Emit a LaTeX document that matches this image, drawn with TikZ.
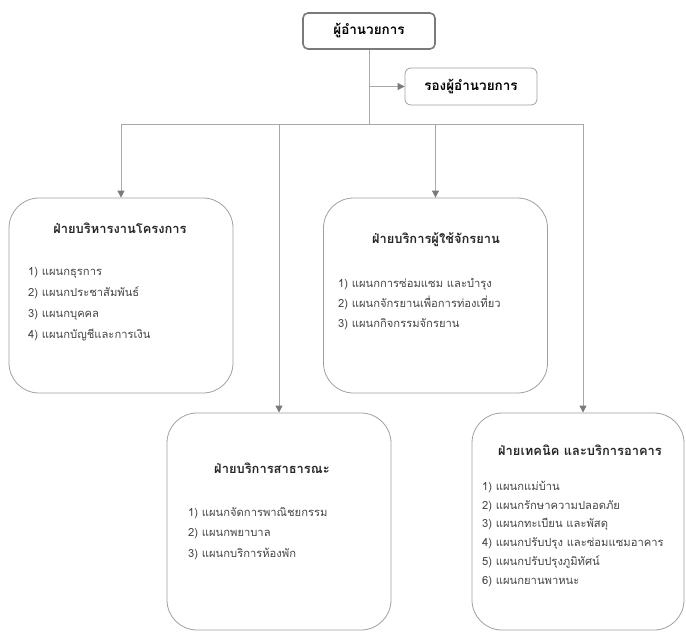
\documentclass[tikz,border=0pt]{standalone}
\usepackage{fontspec}
\setmainfont[Script=Thai]{Loma}
\usetikzlibrary{arrows.meta}
\definecolor{linegray}{HTML}{A8A8A8}
\definecolor{tipgray}{HTML}{7A7A7A}
\definecolor{boxgray}{HTML}{A0A0A0}
\definecolor{textgray}{HTML}{454545}

\begin{document}
\begin{tikzpicture}[x=1pt,y=-1pt]
    \tikzstyle{every node}=[inner sep=0pt]
    \tikzstyle{headbox}=[draw=tipgray, line width=1.6pt, rounded corners=5pt, minimum width=132pt, minimum height=36pt, font=\bfseries\fontsize{13.5}{15}\selectfont]
    \tikzstyle{vicebox}=[draw=boxgray, line width=0.8pt, rounded corners=6pt, minimum width=132pt, minimum height=37pt, font=\bfseries\fontsize{13.5}{15}\selectfont]
    \tikzstyle{deptbox}=[draw=boxgray, line width=0.8pt, rounded corners=30pt, minimum width=224pt]
    \tikzstyle{depttitle}=[font=\bfseries\fontsize{12.9}{15}\selectfont, text=black!85]
    \tikzstyle{itemlist}=[anchor=north west, align=left, text=textgray, font=\fontsize{11.2}{21}\selectfont]
    \tikzstyle{link}=[draw=linegray, line width=0.8pt]
    \tikzstyle{feed}=[link, -{Triangle[length=7pt,width=7pt,color=tipgray]}]
    \useasboundingbox (0,0) rectangle (686,632);

    \node[headbox] (dir) at (369,31) {ผู้อำนวยการ};
    \node[vicebox] (vice) at (471,86.5) {รองผู้อำนวยการ};

    \node[deptbox, minimum height=195pt] (dA) at (121,295.5) {};
    \node[deptbox, minimum height=195pt] (dB) at (435.5,295.5) {};
    \node[deptbox, minimum height=217pt] (dC) at (279,521.5) {};
    \node[deptbox, minimum width=212pt, minimum height=217pt] (dD) at (578,521.5) {};

    \node[depttitle] (dAtitle) at (120,228) {ฝ่ายบริหารงานโครงการ};
    \node[itemlist] (dAlist) at (28,267) {1) แผนกธุรการ\\2) แผนกประชาสัมพันธ์\\3) แผนกบุคคล\\4) แผนกบัญชีและการเงิน};

    \node[depttitle] (dBtitle) at (436,240) {ฝ่ายบริการผู้ใช้จักรยาน};
    \node[itemlist, font=\fontsize{11.2}{20}\selectfont] (dBlist) at (338,278) {1) แผนกการซ่อมแซม และบำรุง\\2) แผนกจักรยานเพื่อการท่องเที่ยว\\3) แผนกกิจกรรมจักรยาน};

    \node[depttitle] (dCtitle) at (272,468) {ฝ่ายบริการสาธารณะ};
    \node[itemlist, font=\fontsize{11.2}{20.5}\selectfont] (dClist) at (188,507) {1) แผนกจัดการพาณิชยกรรม\\2) แผนกพยาบาล\\3) แผนกบริการห้องพัก};

    \node[depttitle] (dDtitle) at (580,450) {ฝ่ายเทคนิค และบริการอาคาร};
    \node[itemlist, font=\fontsize{11.2}{18.7}\selectfont] (dDlist) at (482,481) {1) แผนกแม่บ้าน\\2) แผนกรักษาความปลอดภัย\\3) แผนกทะเบียน และพัสดุ\\4) แผนกปรับปรุง และซ่อมแซมอาคาร\\5) แผนกปรับปรุงภูมิทัศน์\\6) แผนกยานพาหนะ};

    \coordinate (trunk) at (369,124);
    \coordinate (busL) at (121,124);
    \coordinate (busR) at (583,124);
    \coordinate (busC) at (279,124);
    \coordinate (busB) at (435.5,124);

    \draw[link] (dir.south) -- (trunk);
    \draw[feed] (dir.south |- vice.west) -- (vice.west);
    \draw[link] (busL) -- (busR);
    \draw[feed] (busL) -- (dA.north);
    \draw[feed] (busB) -- (dB.north);
    \draw[feed] (busC) -- (dC.north);
    \draw[feed] (busR) -- (busR |- dD.north);
\end{tikzpicture}
\end{document}
